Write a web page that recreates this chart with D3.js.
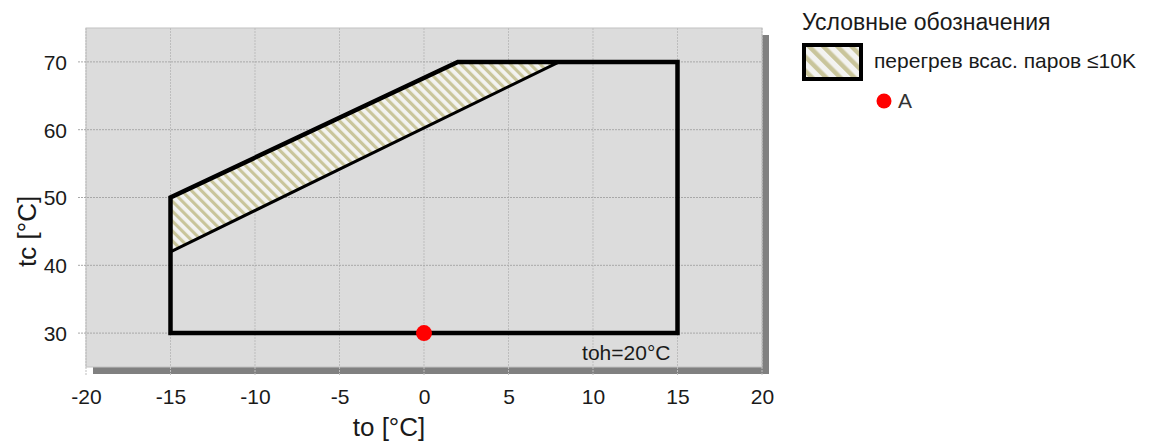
<!DOCTYPE html>
<html>
<head>
<meta charset="utf-8">
<script src="https://cdn.jsdelivr.net/npm/d3@7"></script>
<style>
body { margin: 0; background: #fff; }
text { font-family: "Liberation Sans", Arial, sans-serif; }
</style>
</head>
<body>
<svg></svg>
<script>
// envelope of the operating range
var envelopeTo = [-15, -15, 2, 15, 15];
var envelopeTc = [30, 50, 70, 70, 30];
// hatched zone: superheat <= 10K
var superheatTo = [-15, 2, 8, -15];
var superheatTc = [50, 70, 70, 42];
// point A
var pointTo = [0];
var pointTc = [30];
var pointLabel = ["A"];

var xTicks = [-20, -15, -10, -5, 0, 5, 10, 15, 20];
var yTicks = [30, 40, 50, 60, 70];

var legendTitle = "Условные обозначения";
var legendItems = ["перегрев всас. паров ≤10K", "A"];
var noteText = "toh=20°C";
var xTitle = "to [°C]";
var yTitle = "tc [°C]";

var screen = {width: 1159, height: 442};
var margins = {top: 28, right: 397, bottom: 75, left: 86};

var width = screen.width - margins.left - margins.right;
var height = screen.height - margins.top - margins.bottom;

var svg = d3.select("svg")
    .attr("width", screen.width)
    .attr("height", screen.height)

var defs = svg.append("defs");

var makeHatch = function(id, size)
{
    var p = defs.append("pattern")
        .attr("id", id)
        .attr("patternUnits", "userSpaceOnUse")
        .attr("width", size)
        .attr("height", size)
        .attr("patternTransform", "rotate(-45)");
    p.append("rect").attr("width", size).attr("height", size).attr("fill", "#f3f3f1");
    p.append("rect").attr("width", size * 0.45).attr("height", size).attr("fill", "#c9c59b");
}
makeHatch("hatch", 7);
makeHatch("hatchLegend", 10);

var xScale = d3.scaleLinear().domain([-20, 20]).range([0, width]);
var yScale = d3.scaleLinear().domain([25, 75]).range([height, 0]);

var graph = svg.append("g")
    .attr("id", "graph")
    .attr("transform", "translate(" + margins.left + "," + margins.top + ")");

// shadow + plot background
graph.append("rect")
    .attr("x", 7).attr("y", 7)
    .attr("width", width).attr("height", height)
    .attr("fill", "#808080");
graph.append("rect")
    .attr("width", width).attr("height", height)
    .attr("fill", "#dcdcdc")
    .attr("stroke", "#c2c2c2")
    .attr("stroke-width", 1);

// grid
graph.append("g").selectAll("line")
    .data(xTicks)
    .enter().append("line")
    .attr("x1", function(d) { return xScale(d); })
    .attr("x2", function(d) { return xScale(d); })
    .attr("y1", 0).attr("y2", height + 8)
    .attr("stroke", "#bdbdbd")
    .attr("stroke-dasharray", "2,1")
    .attr("stroke-width", 1);

graph.append("g").selectAll("line")
    .data(yTicks)
    .enter().append("line")
    .attr("x1", -8).attr("x2", width)
    .attr("y1", function(d) { return yScale(d); })
    .attr("y2", function(d) { return yScale(d); })
    .attr("stroke", "#a8a8a8")
    .attr("stroke-dasharray", "2,1")
    .attr("stroke-width", 1);

// axes labels via d3 axes, lines hidden
var fmt = function(d) { return String(d); };
var xAxis = d3.axisBottom(xScale).tickValues(xTicks).tickFormat(fmt).tickSize(0).tickPadding(22);
var yAxis = d3.axisLeft(yScale).tickValues(yTicks).tickFormat(fmt).tickSize(0).tickPadding(19);

var gx = graph.append("g")
    .attr("transform", "translate(0," + height + ")")
    .call(xAxis);
var gy = graph.append("g").call(yAxis);

[gx, gy].forEach(function(g)
{
    g.select(".domain").remove();
    g.selectAll("text")
        .attr("font-size", 21)
        .attr("font-family", "Liberation Sans, Arial, sans-serif")
        .attr("fill", "#1a1a1a");
});
gy.selectAll("text").attr("dy", "0.35em");

var line = d3.line()
    .x(function(d) { return xScale(d[0]); })
    .y(function(d) { return yScale(d[1]); });

// hatched zone
graph.append("path")
    .attr("d", line(d3.zip(superheatTo, superheatTc)) + "Z")
    .attr("fill", "url(#hatch)")
    .attr("stroke", "#000")
    .attr("stroke-width", 3)
    .attr("stroke-linejoin", "miter");

// envelope
graph.append("path")
    .attr("d", line(d3.zip(envelopeTo, envelopeTc)) + "Z")
    .attr("fill", "none")
    .attr("stroke", "#000")
    .attr("stroke-width", 4.5)
    .attr("stroke-linejoin", "miter");

// point A
graph.selectAll(".pt")
    .data(d3.zip(pointTo, pointTc))
    .enter().append("circle")
    .attr("class", "pt")
    .attr("cx", function(d) { return xScale(d[0]); })
    .attr("cy", function(d) { return yScale(d[1]); })
    .attr("r", 8)
    .attr("fill", "#ff0000");

graph.append("text")
    .attr("x", xScale(15) - 7)
    .attr("y", height - 7)
    .attr("text-anchor", "end")
    .attr("font-size", 21)
    .attr("fill", "#1a1a1a")
    .text(noteText);

// axis titles
svg.append("text")
    .attr("x", margins.left + xScale(0) - 35)
    .attr("y", 436)
    .attr("text-anchor", "middle")
    .attr("font-size", 26)
    .attr("fill", "#1a1a1a")
    .text(xTitle);

svg.append("text")
    .attr("transform", "translate(36," + (margins.top + yScale(45)) + ") rotate(-90)")
    .attr("text-anchor", "middle")
    .attr("font-size", 26)
    .attr("fill", "#1a1a1a")
    .text(yTitle);

// legend
var legend = svg.append("g").attr("transform", "translate(802,0)");
legend.append("text")
    .attr("x", 0).attr("y", 30)
    .attr("font-size", 23)
    .attr("fill", "#1a1a1a")
    .text(legendTitle);
legend.append("rect")
    .attr("x", 2).attr("y", 45)
    .attr("width", 57).attr("height", 34)
    .attr("fill", "url(#hatchLegend)")
    .attr("stroke", "#000")
    .attr("stroke-width", 4);
legend.append("text")
    .attr("x", 72).attr("y", 68)
    .attr("font-size", 21)
    .attr("fill", "#1a1a1a")
    .text(legendItems[0]);
legend.append("circle")
    .attr("cx", 82).attr("cy", 101)
    .attr("r", 7.5)
    .attr("fill", "#ff0000");
legend.append("text")
    .attr("x", 96).attr("y", 108)
    .attr("font-size", 21)
    .attr("fill", "#333")
    .text(legendItems[1]);
</script>
</body>
</html>
